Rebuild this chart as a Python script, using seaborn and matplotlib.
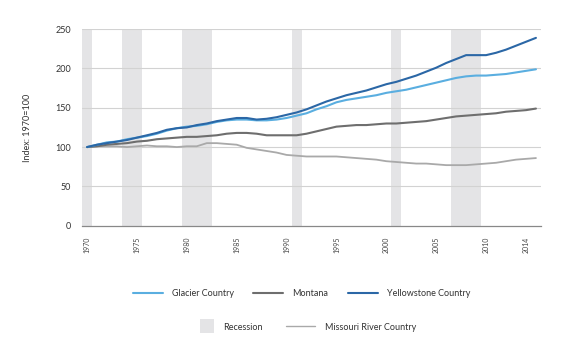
import numpy as np
import pandas as pd
import matplotlib
matplotlib.use("Agg")
import matplotlib.pyplot as plt
import seaborn as sns
from matplotlib.lines import Line2D
from matplotlib.patches import Patch, Rectangle
from matplotlib.legend_handler import HandlerPatch

# --- data (index 1970 = 100) ---
years = list(range(1970, 2016))

glacier = [100, 103, 106, 107, 110, 112, 114, 117, 121, 124,
           126, 127, 129, 132, 134, 135, 135, 134, 134, 135,
           137, 140, 143, 148, 152, 157, 160, 162, 164, 166,
           169, 171, 173, 176, 179, 182, 185, 188, 190, 191,
           191, 192, 193, 195, 197, 199]

montana = [100, 101, 103, 104, 105, 107, 108, 110, 111, 112,
           113, 113, 114, 115, 117, 118, 118, 117, 115, 115,
           115, 115, 117, 120, 123, 126, 127, 128, 128, 129,
           130, 130, 131, 132, 133, 135, 137, 139, 140, 141,
           142, 143, 145, 146, 147, 149]

yellowstone = [100, 103, 105, 107, 109, 112, 115, 118, 122, 124,
               125, 128, 130, 133, 135, 137, 137, 135, 136, 138,
               141, 144, 148, 153, 158, 162, 166, 169, 172, 176,
               180, 183, 187, 191, 196, 201, 207, 212, 217, 217,
               217, 220, 224, 229, 234, 239]

missouri = [100, 101, 101, 101, 100, 101, 102, 101, 101, 100,
            101, 101, 105, 105, 104, 103, 99, 97, 95, 93,
            90, 89, 88, 88, 88, 88, 87, 86, 85, 84,
            82, 81, 80, 79, 79, 78, 77, 77, 77, 78,
            79, 80, 82, 84, 85, 86]

recession_years = [1970, 1974, 1975, 1980, 1981, 1982, 1991, 2001, 2007, 2008, 2009]
label_years = [1970, 1975, 1980, 1985, 1990, 1995, 2000, 2005, 2010, 2014]

series = {
    "Glacier Country": glacier,
    "Montana": montana,
    "Yellowstone Country": yellowstone,
    "Missouri River Country": missouri,
}
colors = {
    "Glacier Country": "#5aaee0",
    "Montana": "#6e6e6e",
    "Yellowstone Country": "#2b67a6",
    "Missouri River Country": "#a9a9a9",
}
widths = {
    "Glacier Country": 1.5,
    "Montana": 1.5,
    "Yellowstone Country": 1.5,
    "Missouri River Country": 1.3,
}
RECESSION_COLOR = "#e4e4e6"

df = pd.DataFrame({"year": years, **series})
long_df = df.melt(id_vars="year", var_name="region", value_name="index")
long_df["x"] = long_df["year"] + 0.5  # plot at category centres


class SquareHandler(HandlerPatch):
    """Recession swatch: a square sitting at the right end of the handle box."""
    def create_artists(self, legend, orig_handle, xdescent, ydescent,
                       width, height, fontsize, trans):
        side = 10.0
        p = Rectangle((width - side - xdescent, -ydescent + (height - side) / 2),
                      side, side, facecolor=orig_handle.get_facecolor(),
                      edgecolor="none", transform=trans)
        return [p]


# --- figure ---
sns.set_style("white")
plt.rcParams["font.family"] = ["Lato", "DejaVu Sans"]

fig = plt.figure(figsize=(5.7, 3.52), dpi=100)
ax = fig.add_axes([0.144, 0.359, 0.805, 0.558])

for yr in recession_years:
    ax.axvspan(yr, yr + 1, color=RECESSION_COLOR, lw=0, zorder=0)

for y in [50, 100, 150, 200, 250]:
    ax.axhline(y, color="#d2d2d2", lw=0.8, zorder=1)

for name in ["Missouri River Country", "Montana", "Glacier Country", "Yellowstone Country"]:
    sns.lineplot(data=long_df[long_df["region"] == name], x="x", y="index",
                 color=colors[name], lw=widths[name], ax=ax, legend=False, zorder=3)

ax.set_xlim(1970, 2016)
ax.set_ylim(0, 250)
ax.set_yticks([0, 50, 100, 150, 200, 250])
ax.set_xticks([y + 0.5 for y in label_years])
ax.set_xticklabels([str(y) for y in label_years], rotation=90, fontsize=5, color="#444444")
ax.set_xticks(np.arange(1970, 2017), minor=True)
ax.tick_params(axis="x", which="major", length=0, pad=8)
ax.tick_params(axis="x", which="minor", length=3, width=0.6, color="#888888", direction="out")
ax.tick_params(axis="y", length=0, labelsize=6.5, labelcolor="#333333", pad=8)

for s in ["top", "right", "left"]:
    ax.spines[s].set_visible(False)
ax.spines["bottom"].set_color("#888888")
ax.spines["bottom"].set_linewidth(0.9)

ax.set_xlabel("")
ax.set_ylabel("Index: 1970=100", fontsize=6.5, color="#333333", labelpad=17)

# --- legend, two centred rows ---
row1_names = ["Glacier Country", "Montana", "Yellowstone Country"]
row1 = [Line2D([], [], color=colors[n], lw=1.5) for n in row1_names]
leg1 = fig.legend(row1, row1_names,
                  loc="center", bbox_to_anchor=(0.529, 1 - 294 / 352), ncol=3,
                  frameon=False, fontsize=6.5, handlelength=3.3, columnspacing=2.2,
                  handletextpad=1.0)
row2 = [Patch(facecolor=RECESSION_COLOR, edgecolor="none"),
        Line2D([], [], color=colors["Missouri River Country"], lw=1.0)]
leg2 = fig.legend(row2, ["Recession", "Missouri River Country"],
                  loc="center", bbox_to_anchor=(0.526, 1 - 327 / 352), ncol=2,
                  frameon=False, fontsize=6.5, handlelength=3.3, columnspacing=2.6,
                  handletextpad=1.0, handler_map={Patch: SquareHandler()})
for t in leg1.get_texts() + leg2.get_texts():
    t.set_color("#333333")

fig.savefig("out.png", dpi=100)
